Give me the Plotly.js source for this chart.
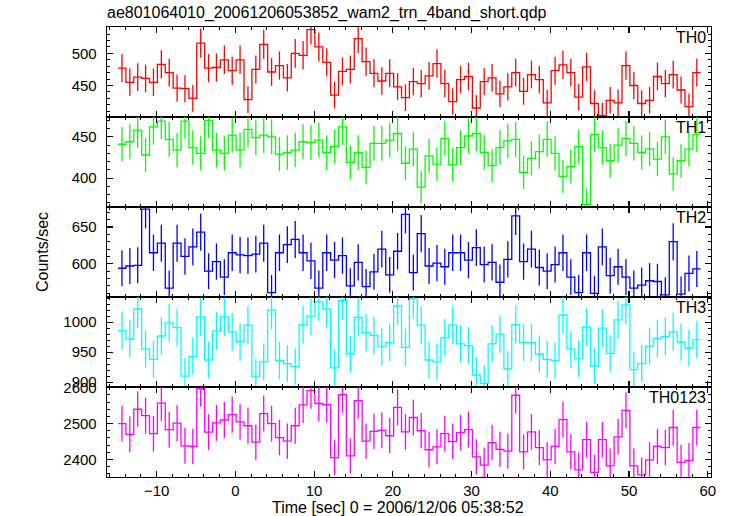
<!DOCTYPE html>
<html>
<head>
<meta charset="utf-8">
<script src="https://cdn.plot.ly/plotly-3.0.1.min.js"></script>
<style>html,body{margin:0;padding:0;background:#fff;}#plot{width:730px;height:516px;}</style>
</head>
<body>
<div id="plot"></div>
<script>
// Bin centre times [sec]
const timeSec = [-14.4,-13.4,-12.4,-11.4,-10.4,-9.4,-8.4,-7.4,-6.4,-5.4,-4.4,-3.4,-2.4,-1.4,-0.4,0.6,1.6,2.6,3.6,4.6,5.6,6.6,7.6,8.6,9.6,10.6,11.6,12.6,13.6,14.6,15.6,16.6,17.6,18.6,19.6,20.6,21.6,22.6,23.6,24.6,25.6,26.6,27.6,28.6,29.6,30.6,31.6,32.6,33.6,34.6,35.6,36.6,37.6,38.6,39.6,40.6,41.6,42.6,43.6,44.6,45.6,46.6,47.6,48.6,49.6,50.6,51.6,52.6,53.6,54.6,55.6,56.6,57.6,58.6];
const binWidth = 1.0;

const th0 = [477,455,463,461,455,483,470,446,445,430,516,477,478,490,473,490,428,475,514,471,481,462,500,497,537,510,486,435,472,475,523,487,469,457,469,448,
             431,456,453,465,484,453,425,459,464,415,456,462,437,448,470,441,467,459,423,473,482,470,432,479,422,403,427,423,481,450,422,427,464,453,467,443,417,470];
const th1 = [441,444,458,428,462,469,447,434,469,437,430,470,434,430,452,434,459,449,452,450,429,431,434,444,443,446,431,438,462,419,431,413,442,442,446,454,
             418,435,389,427,417,448,416,437,451,454,431,415,437,445,447,407,424,432,447,430,402,414,438,368,453,437,421,440,448,442,431,435,423,450,405,421,435,453];
const th2 = [594,597,598,674,615,628,567,628,610,623,643,590,603,582,615,612,611,613,628,561,615,626,633,615,604,567,615,605,611,570,602,569,589,620,585,617,
             667,588,641,597,601,596,615,615,605,622,599,602,575,606,665,603,620,595,590,599,615,582,561,615,560,623,584,596,582,567,571,577,576,558,630,559,587,593];
const th3 = [986,972,1022,955,938,977,999,991,910,943,1009,937,985,1009,984,967,995,909,934,1020,936,931,926,996,1010,1034,1022,924,1036,947,1008,983,978,959,966,1027,
             958,1039,995,937,934,974,995,964,961,912,898,964,980,922,996,966,966,947,938,936,1012,955,939,992,927,990,948,1004,1029,921,931,960,973,976,984,967,957,971];
const th0123 = [2500,2470,2540,2522,2472,2557,2483,2501,2438,2436,2598,2476,2502,2510,2525,2505,2494,2448,2528,2500,2461,2451,2494,2552,2592,2556,2553,2405,2581,2410,2564,2451,2478,2481,2466,2545,
                2477,2517,2480,2427,2435,2472,2450,2475,2483,2407,2384,2447,2428,2423,2579,2421,2477,2433,2399,2436,2511,2421,2371,2455,2364,2455,2382,2463,2537,2382,2357,2399,2436,2433,2489,2392,2397,2489];

const bandNames = ['TH0','TH1','TH2','TH3','TH0123'];
const bandValues = [th0, th1, th2, th3, th0123];
const bandColors = ['#ff0000','#00ff00','#0000ff','#00ffff','#ff00ff'];
const yRanges = [[401,541],[365,474],[555,677],[892,1042],[2351,2602]];
const yDticks = [50,50,50,50,100];
const yMinor = [10,10,10,10,20];

const FONT = 'Liberation Sans, Arial, Helvetica, sans-serif';
const traces = [];
const layout = {
  width: 730, height: 516,
  margin: {l: 107, r: 19, t: 27, b: 39},
  paper_bgcolor: '#fff', plot_bgcolor: '#fff',
  showlegend: false,
  font: {family: FONT, size: 15, color: '#000'},
  annotations: []
};

const nP = bandNames.length;
for (let i = 0; i < nP; i++) {
  const n = i + 1;
  const xa = n === 1 ? 'x' : 'x' + n;
  const ya = n === 1 ? 'y' : 'y' + n;
  const vals = bandValues[i];
  // step outline built from bin edges
  const edgeX = timeSec.map(t => t - binWidth / 2).concat([timeSec[timeSec.length - 1] + binWidth / 2]);
  const edgeY = vals.concat([vals[vals.length - 1]]);
  traces.push({
    type: 'scatter', mode: 'lines', x: edgeX, y: edgeY, xaxis: xa, yaxis: ya,
    line: {shape: 'hv', color: bandColors[i], width: 1.3}, hoverinfo: 'skip'
  });
  traces.push({
    type: 'scatter', mode: 'markers', x: timeSec, y: vals, xaxis: xa, yaxis: ya,
    marker: {size: 2, color: 'rgba(0,0,0,0)'},
    error_y: {type: 'data', array: vals.map(v => Math.sqrt(v)), visible: true,
              color: bandColors[i], thickness: 1.3, width: 0},
    hoverinfo: 'skip'
  });
  const top = 1 - i / nP, bot = 1 - (i + 1) / nP;
  const xaxis = {
    anchor: ya, domain: [0, 1], range: [-16.3, 60.4],
    showgrid: false, zeroline: false,
    showline: true, linecolor: '#000', linewidth: 1.3, mirror: 'allticks',
    ticks: 'inside', ticklen: 6, tickwidth: 1.2, tickcolor: '#000', dtick: 10, tick0: 0,
    minor: {ticks: 'inside', ticklen: 3, tickwidth: 1, tickcolor: '#000', dtick: 2},
    showticklabels: i === nP - 1,
    tickfont: {family: FONT, size: 15, color: '#000'}
  };
  if (n !== 1) xaxis.matches = 'x';
  const yaxis = {
    anchor: xa, domain: [bot, top], range: yRanges[i],
    showgrid: false, zeroline: false,
    showline: true, linecolor: '#000', linewidth: 1.3, mirror: 'allticks',
    ticks: 'inside', ticklen: 6, tickwidth: 1.2, tickcolor: '#000', dtick: yDticks[i], tick0: 0,
    minor: {ticks: 'inside', ticklen: 3, tickwidth: 1, tickcolor: '#000', dtick: yMinor[i]},
    tickfont: {family: FONT, size: 15, color: '#000'},
    ticklabelstandoff: 6
  };
  layout[n === 1 ? 'xaxis' : 'xaxis' + n] = xaxis;
  layout[n === 1 ? 'yaxis' : 'yaxis' + n] = yaxis;
  layout.annotations.push({
    text: bandNames[i], showarrow: false,
    xref: 'paper', x: 1, xanchor: 'right', xshift: -3,
    yref: ya + ' domain', y: 1, yanchor: 'top', yshift: 0,
    font: {family: FONT, size: 16, color: '#000'}
  });
}

layout.annotations.push({
  text: 'ae801064010_20061206053852_wam2_trn_4band_short.qdp', showarrow: false,
  xref: 'paper', x: 0, xanchor: 'left', xshift: -2,
  yref: 'paper', y: 1, yanchor: 'bottom', yshift: 3,
  font: {family: FONT, size: 16, color: '#000'}
});
layout.annotations.push({
  text: 'Counts/sec', showarrow: false, textangle: -90,
  xref: 'paper', x: (42 - 107) / 604, xanchor: 'center',
  yref: 'paper', y: 0.5, yanchor: 'middle',
  font: {family: FONT, size: 16, color: '#000'}
});
layout.annotations.push({
  text: 'Time [sec] 0 = 2006/12/06 05:38:52', showarrow: false,
  xref: 'paper', x: (397.5 - 107) / 604, xanchor: 'center',
  yref: 'paper', y: 0, yanchor: 'top', yshift: -20,
  font: {family: FONT, size: 16, color: '#000'}
});

Plotly.newPlot('plot', traces, layout, {staticPlot: true, displayModeBar: false});
</script>
</body>
</html>
